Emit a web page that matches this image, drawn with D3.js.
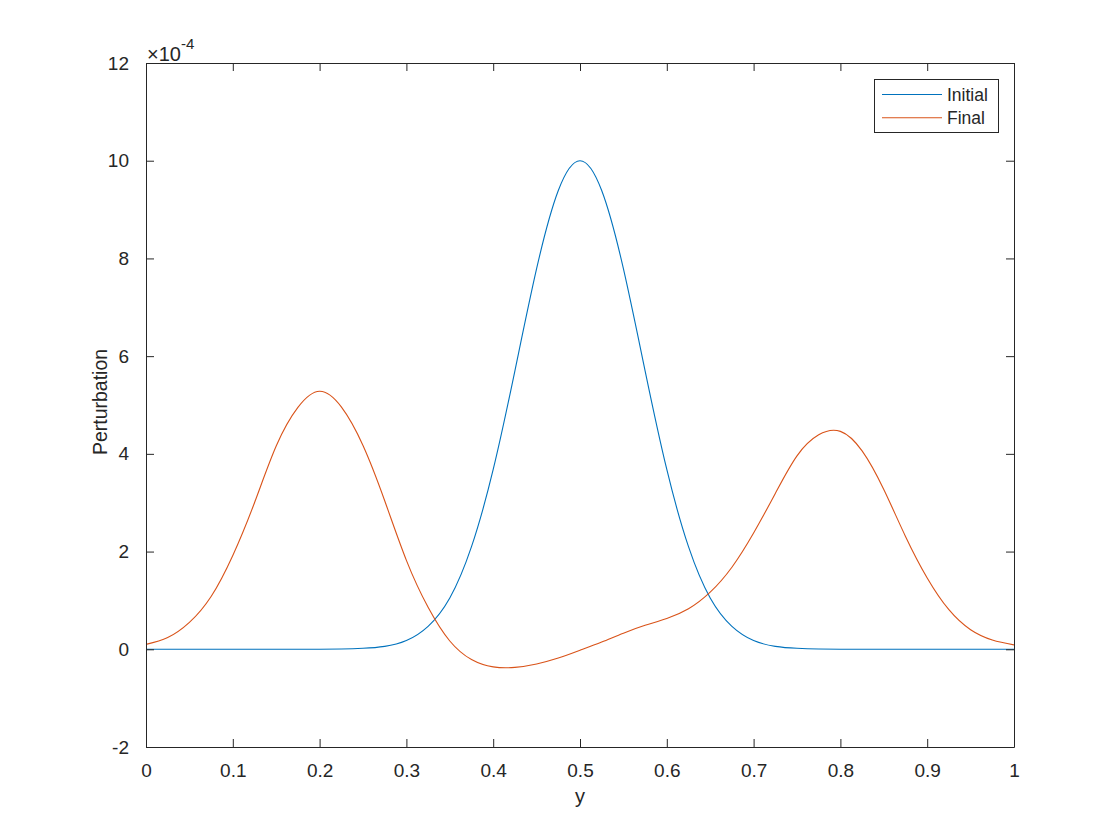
<!DOCTYPE html>
<html>
<head>
<meta charset="utf-8">
<script src="https://cdn.jsdelivr.net/npm/d3@7"></script>
<style>
  html, body { margin: 0; padding: 0; background: #ffffff; }
  svg { display: block; }
  text { font-family: "Liberation Sans", Arial, Helvetica, sans-serif; fill: #262626; }
</style>
</head>
<body>
<svg id="chart" width="1120" height="840"></svg>
<script>
// ---- data (values in units of 1e-4) ----
const yGrid = [0, 0.025, 0.05, 0.075, 0.1, 0.125, 0.15, 0.175, 0.2, 0.225,
               0.25, 0.275, 0.3, 0.325, 0.35, 0.375, 0.4, 0.425, 0.45, 0.475,
               0.5, 0.525, 0.55, 0.575, 0.6, 0.625, 0.65, 0.675, 0.7, 0.725,
               0.75, 0.775, 0.8, 0.825, 0.85, 0.875, 0.9, 0.925, 0.95, 0.975, 1.0];
const initialValues = [0, 0, 0, 0, 0, 0, 0, 0, 0, 0.005,
                       0.02, 0.06, 0.18, 0.47, 1.05, 2.10, 3.68, 5.70, 7.79, 9.39,
                       10.0, 9.39, 7.79, 5.70, 3.68, 2.10, 1.05, 0.47, 0.18, 0.06,
                       0.02, 0.005, 0, 0, 0, 0, 0, 0, 0, 0, 0];
const finalValues = [0.10, 0.24, 0.55, 1.08, 1.92, 3.00, 4.16, 4.95, 5.28, 4.96,
                     4.17, 3.04, 1.82, 0.86, 0.17, -0.21, -0.36, -0.37, -0.30, -0.18,
                     -0.02, 0.15, 0.33, 0.49, 0.63, 0.83, 1.17, 1.68, 2.38, 3.19,
                     3.96, 4.39, 4.46, 4.06, 3.27, 2.31, 1.46, 0.81, 0.40, 0.19, 0.09];
const seriesNames = ["Initial", "Final"];
const seriesColors = ["#0072BD", "#D95319"];
const xTicks = [0, 0.1, 0.2, 0.3, 0.4, 0.5, 0.6, 0.7, 0.8, 0.9, 1];
const yTicks = [-2, 0, 2, 4, 6, 8, 10, 12];
const xLabel = "y";
const yLabel = "Perturbation";

// ---- layout ----
const svg = d3.select("#chart");
const pL = 146, pR = 1014, pT = 63, pB = 747;
const x = d3.scaleLinear().domain([0, 1]).range([pL, pR]);
const y = d3.scaleLinear().domain([-2, 12]).range([pB, pT]);
const axisColor = "#262626";
const tickLen = 8;
const tickFont = "19px";

svg.append("rect").attr("x", pL).attr("y", pT)
  .attr("width", pR - pL).attr("height", pB - pT).attr("fill", "#ffffff");

// data lines
const series = [initialValues, finalValues];
svg.append("clipPath").attr("id", "clip").append("rect")
  .attr("x", pL).attr("y", pT).attr("width", pR - pL).attr("height", pB - pT);
const line = d3.line()
  .x((d, i) => x(yGrid[i]))
  .y(d => y(d))
  .curve(d3.curveNatural);
series.forEach((vals, k) => {
  svg.append("path")
    .attr("d", line(vals))
    .attr("fill", "none")
    .attr("stroke", seriesColors[k])
    .attr("stroke-width", 1.1)
    .attr("clip-path", "url(#clip)");
});

// axes (MATLAB style: inward ticks, box)
function styleAxis(g) {
  g.selectAll("path.domain").attr("stroke", axisColor).attr("stroke-width", 1);
  g.selectAll(".tick line").attr("stroke", axisColor).attr("stroke-width", 1);
  g.selectAll(".tick text").attr("fill", axisColor)
    .style("font-family", '"Liberation Sans", Arial, Helvetica, sans-serif')
    .style("font-size", tickFont);
}
const fmtX = d => (d === 0 || d === 1) ? String(d) : d.toFixed(1);

const gBottom = svg.append("g").attr("transform", `translate(0,${pB})`)
  .call(d3.axisBottom(x).tickValues(xTicks).tickFormat(fmtX).tickSizeInner(-tickLen).tickSizeOuter(0).tickPadding(17));
styleAxis(gBottom);
const gTop = svg.append("g").attr("transform", `translate(0,${pT})`)
  .call(d3.axisTop(x).tickValues(xTicks).tickFormat("").tickSizeInner(-tickLen).tickSizeOuter(0));
styleAxis(gTop);
const gLeft = svg.append("g").attr("transform", `translate(${pL},0)`)
  .call(d3.axisLeft(y).tickValues(yTicks).tickFormat(d => String(d)).tickSizeInner(-tickLen).tickSizeOuter(0).tickPadding(17));
styleAxis(gLeft);
const gRight = svg.append("g").attr("transform", `translate(${pR},0)`)
  .call(d3.axisRight(y).tickValues(yTicks).tickFormat("").tickSizeInner(-tickLen).tickSizeOuter(0));
styleAxis(gRight);

// exponent label
const expo = svg.append("text").attr("x", pL + 1).attr("y", 61)
  .style("font-size", "20px");
expo.append("tspan").text("\u00D710");
expo.append("tspan").attr("dy", -12).style("font-size", "15px").text("-4");

// axis labels
svg.append("text").attr("x", (pL + pR) / 2).attr("y", 803)
  .attr("text-anchor", "middle").style("font-size", "20px").text(xLabel);
svg.append("text")
  .attr("transform", `translate(107,${(pT + pB) / 2 - 3}) rotate(-90)`)
  .attr("text-anchor", "middle").style("font-size", "19.5px").text(yLabel);

// legend
const lg = svg.append("g");
lg.append("rect").attr("x", 874.5).attr("y", 79.5).attr("width", 124).attr("height", 53)
  .attr("fill", "#ffffff").attr("stroke", axisColor).attr("stroke-width", 1);
seriesNames.forEach((name, k) => {
  const ly = 94.5 + k * 23.3;
  lg.append("line").attr("x1", 882).attr("x2", 942).attr("y1", ly).attr("y2", ly)
    .attr("stroke", seriesColors[k]).attr("stroke-width", 1.1);
  lg.append("text").attr("x", 947).attr("y", ly + 6.5).style("font-size", "17.5px").text(name);
});
</script>
</body>
</html>
